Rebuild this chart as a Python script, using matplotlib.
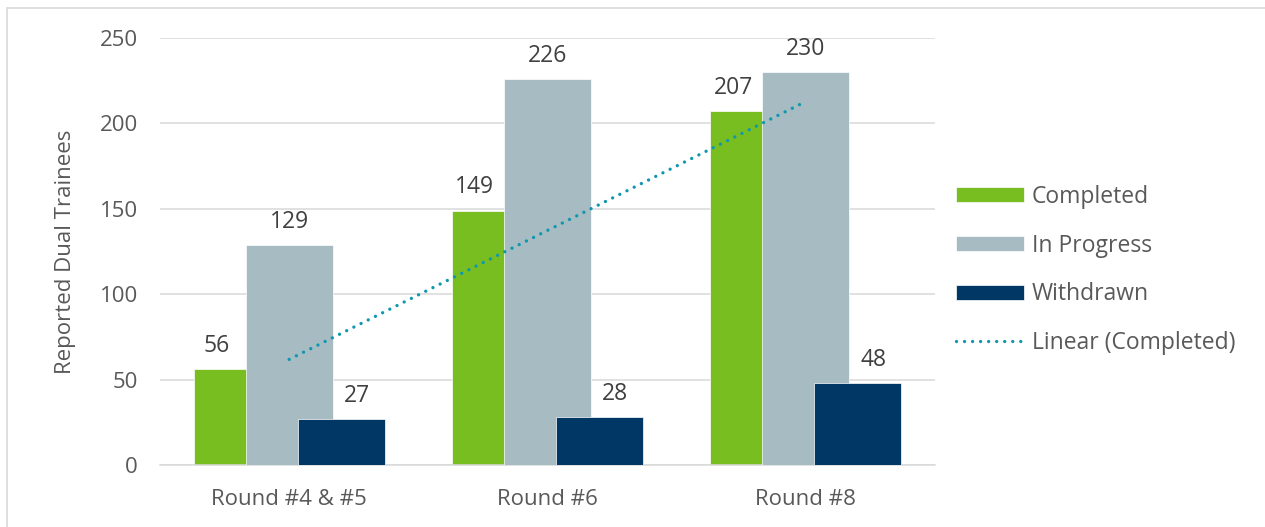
import numpy as np
import matplotlib.pyplot as plt
from matplotlib.patches import Rectangle

rounds = ['Round #4 & #5', 'Round #6', 'Round #8']
completed = [56, 149, 207]
in_progress = [129, 226, 230]
withdrawn = [27, 28, 48]

green = '#78BE20'
grey = '#A6BBC2'
navy = '#003764'
teal = '#0E97AF'

plt.rcParams['font.family'] = ['Open Sans', 'DejaVu Sans']

fig = plt.figure(figsize=(12.65, 5.27), dpi=100)
ax = fig.add_axes([160 / 1265, 62 / 527, 775 / 1265, 427 / 527])

x = np.arange(len(rounds))
w = 0.337
off = 0.2016

# overlapping clustered bars
b1 = ax.bar(x - off, completed, w, color=green, edgecolor='white', linewidth=0.5, label='Completed', zorder=2)
b2 = ax.bar(x, in_progress, w, color=grey, edgecolor='white', linewidth=0.5, label='In Progress', zorder=3)
b3 = ax.bar(x + off, withdrawn, w, color=navy, edgecolor='white', linewidth=0.5, label='Withdrawn', zorder=4)

# linear trend of completed trainees
coef = np.polyfit(x, completed, 1)
trend, = ax.plot(x, np.polyval(coef, x), color=teal, linewidth=2.4,
                 linestyle=(0, (0.01, 2.4)), dash_capstyle='round',
                 label='Linear (Completed)', zorder=5)

# value labels
for vals, pos, dx in [(completed, x - off, -0.08), (in_progress, x, 0.0), (withdrawn, x + off, 0.06)]:
    for i, v in enumerate(vals):
        ax.annotate(str(v), (pos[i] + dx, v), xytext=(0, 8), textcoords='offset points',
                    ha='center', va='bottom', fontsize=16.5, color='#404040')

ax.set_xlim(-0.5, 2.5)
ax.set_ylim(0, 250)
ax.set_yticks(range(0, 251, 50))
ax.set_xticks(x)
ax.set_xticklabels(rounds)
ax.grid(axis='y', color='#D9D9D9', linewidth=1.1, zorder=0)
ax.set_axisbelow(True)
for s in ['top', 'right', 'left']:
    ax.spines[s].set_visible(False)
ax.spines['bottom'].set_color('#D9D9D9')
ax.spines['bottom'].set_linewidth(1.1)
ax.tick_params(axis='both', length=0, labelsize=16, labelcolor='#595959')
ax.tick_params(axis='y', pad=16)
ax.tick_params(axis='x', pad=17)
ax.set_ylabel('Reported Dual Trainees', fontsize=16, color='#595959', labelpad=17)

fig.legend([b1, b2, b3, trend], ['Completed', 'In Progress', 'Withdrawn', 'Linear (Completed)'],
           loc='center left', bbox_to_anchor=(956 / 1265, 257 / 527), frameon=False,
           fontsize=16.5, labelcolor='#595959', borderpad=0, borderaxespad=0,
           handlelength=2.95, handleheight=0.65, handletextpad=0.35, labelspacing=1.08)

# chart frame
fig.add_artist(Rectangle((7 / 1265, -0.1), 1.2, 1 - 8 / 527 + 0.1, transform=fig.transFigure,
                         fill=False, edgecolor='#D9D9D9', linewidth=1.2))

fig.savefig('out.png', dpi=100)
